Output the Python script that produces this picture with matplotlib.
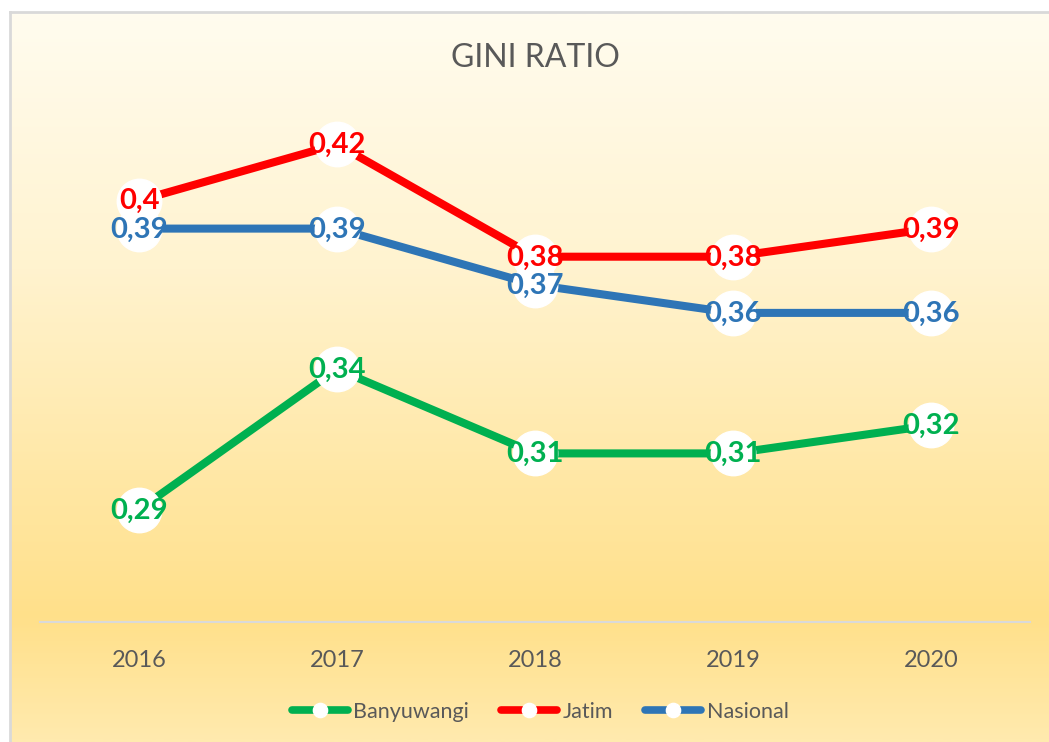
import numpy as np
import matplotlib.pyplot as plt
from matplotlib.colors import LinearSegmentedColormap

plt.rcParams["font.family"] = ["Lato", "DejaVu Sans"]

years = ["2016", "2017", "2018", "2019", "2020"]
banyuwangi = [0.29, 0.34, 0.31, 0.31, 0.32]
jatim = [0.40, 0.42, 0.38, 0.38, 0.39]
nasional = [0.39, 0.39, 0.37, 0.36, 0.36]

series = [
    ("Banyuwangi", banyuwangi, "#00B050"),
    ("Jatim", jatim, "#FF0000"),
    ("Nasional", nasional, "#2E75B6"),
]

W, H = 1049, 742
fig = plt.figure(figsize=(W / 100, H / 100), dpi=100)
fig.patch.set_facecolor("white")

# background gradient panel
bg = fig.add_axes([10 / W, 0, 1 - 10 / W, 1 - 12 / H])
grad_cmap = LinearSegmentedColormap.from_list(
    "bg", [(0.0, "#FFFCEF"), (0.35, "#FFF3CF"), (0.83, "#FFE08A"), (1.0, "#FFEAAE")]
)
bg.imshow(np.linspace(0, 1, 400).reshape(-1, 1), aspect="auto", cmap=grad_cmap,
          extent=[0, 1, 1, 0])
bg.set_xlim(0, 1)
bg.set_ylim(1, 0)
bg.set_xticks([])
bg.set_yticks([])
for side in ["right", "bottom"]:
    bg.spines[side].set_visible(False)
for side in ["left", "top"]:
    bg.spines[side].set_color("#D9D9D9")
    bg.spines[side].set_linewidth(2)

# plot area: x 40..1030 px, y 60..622 px
ax = fig.add_axes([40 / W, 1 - 622 / H, 990 / W, 562 / H])
ax.patch.set_alpha(0)
x = np.arange(len(years))

for name, vals, color in series:
    ax.plot(x, vals, color=color, lw=5.8, marker="o", markersize=32,
            markerfacecolor="white", markeredgecolor="white", label=name,
            solid_capstyle="round", zorder=2)

for name, vals, color in series:
    for xi, v in zip(x, vals):
        ax.text(xi, v - 0.0003, f"{v:g}".replace(".", ","), color=color, fontsize=21,
                fontweight="bold", ha="center", va="center", zorder=5)

ax.set_xlim(-0.5, len(years) - 0.5)
ax.set_ylim(0.25, 0.45)
ax.set_yticks([])
ax.set_xticks(x)
ax.set_xticklabels(years, fontsize=17, color="#595959")
ax.tick_params(axis="x", length=0, pad=20)
for side in ["left", "right", "top"]:
    ax.spines[side].set_visible(False)
ax.spines["bottom"].set_color("#D9D9D9")
ax.spines["bottom"].set_linewidth(1.5)

fig.text(535 / W, 1 - 58 / H, "GINI RATIO", fontsize=23, color="#595959",
         ha="center", va="center")

handles, labels = ax.get_legend_handles_labels()
leg = fig.legend(handles, labels, loc="center", bbox_to_anchor=(540 / W, 1 - 712 / H),
                 ncol=3, frameon=False, fontsize=15.5, handlelength=2.6,
                 columnspacing=1.5, handletextpad=0.25, markerscale=0.32,
                 labelcolor="#595959")
for line in leg.get_lines():
    line.set_linewidth(5.5)

fig.savefig("out.png", dpi=100)
